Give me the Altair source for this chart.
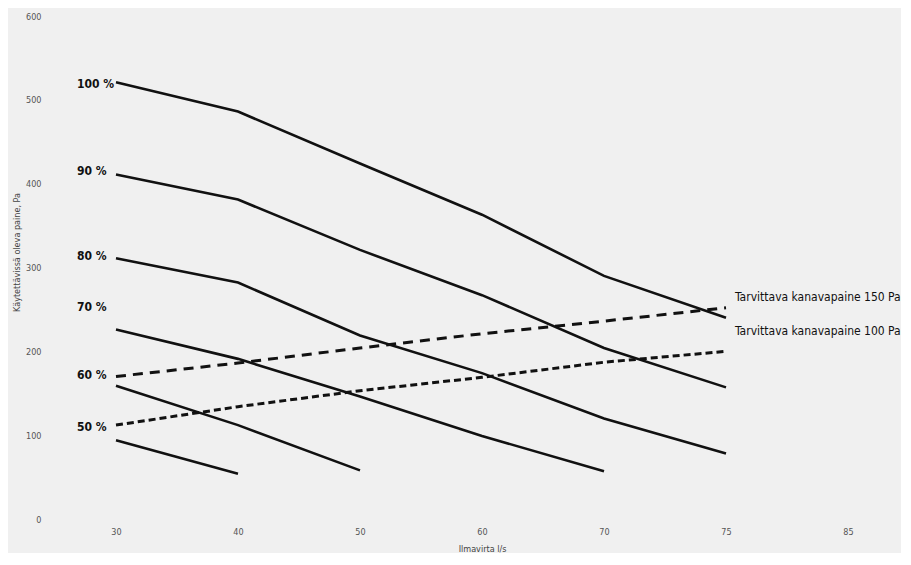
import altair as alt
import pandas as pd

# x-axis categories (as printed on the chart)
x_labels = ["30", "40", "50", "60", "70", "75", "85"]

# available pressure (Pa) for each fan speed, read at the x categories
p100 = [521, 486, 424, 363, 290, 240]
p90 = [411, 381, 321, 267, 204, 157]
p80 = [311, 282, 219, 174, 120, 78]
p70 = [226, 191, 146, 99, 57]
p60 = [159, 112, 58]
p50 = [94, 54]

# required duct pressure curves (dashed)
d150 = [170, 186, 204, 221, 236, 252]
d100 = [112, 134, 153, 169, 187, 200]

speed_names = ["100 %", "90 %", "80 %", "70 %", "60 %", "50 %"]
speed_series = [p100, p90, p80, p70, p60, p50]
label_y = [519, 415, 314, 253, 172, 110]

req_names = ["Tarvittava kanavapaine 150 Pa", "Tarvittava kanavapaine 100 Pa"]
req_label_y = [265, 224]

rows = []
for name, vals in zip(speed_names, speed_series):
    for x, v in zip(x_labels, vals):
        rows.append({"series": name, "flow": x, "pressure": v})
solid_df = pd.DataFrame(rows)

d150_df = pd.DataFrame({"flow": x_labels[:len(d150)], "pressure": d150})
d100_df = pd.DataFrame({"flow": x_labels[:len(d100)], "pressure": d100})

lab_df = pd.DataFrame({"label": speed_names, "flow": ["30"] * len(speed_names), "pressure": label_y})
req_df = pd.DataFrame({"label": req_names, "flow": ["75"] * len(req_names), "pressure": req_label_y})

FONT = "Liberation Sans Narrow, DejaVu Sans Condensed, sans-serif"

xscale = alt.Scale(type="point", domain=x_labels, padding=0.295)
yscale = alt.Scale(domain=[0, 600])

X = alt.X("flow:O", scale=xscale, sort=x_labels,
          axis=alt.Axis(title="Ilmavirta l/s", labelAngle=0, domain=False, ticks=False,
                        grid=False, labelFontSize=9, labelColor="#555", labelPadding=8,
                        titleFontSize=9, titleFontWeight="normal", titleColor="#444",
                        titlePadding=8, labelFont=FONT, titleFont=FONT))
Y = alt.Y("pressure:Q", scale=yscale,
          axis=alt.Axis(title="Käytettävissä oleva paine, Pa", values=[0, 100, 200, 300, 400, 500, 600],
                        domain=False, ticks=False, grid=False, labelFontSize=9,
                        labelColor="#555", labelPadding=39, titleFontSize=9,
                        titleFontWeight="normal", titleColor="#444", titleX=-64, titleY=236,
                        titleBaseline="middle", labelFont=FONT, titleFont=FONT))

solid = alt.Chart(solid_df).mark_line(color="#111", strokeWidth=2.6).encode(
    x=X, y=Y, detail="series:N")
dash150 = alt.Chart(d150_df).mark_line(color="#111", strokeWidth=3, strokeDash=[10, 7]).encode(
    x=alt.X("flow:O", scale=xscale, sort=x_labels), y=alt.Y("pressure:Q", scale=yscale))
dash100 = alt.Chart(d100_df).mark_line(color="#111", strokeWidth=3, strokeDash=[7, 4]).encode(
    x=alt.X("flow:O", scale=xscale, sort=x_labels), y=alt.Y("pressure:Q", scale=yscale))

labels = alt.Chart(lab_df).mark_text(align="left", baseline="middle", dx=-39, fontSize=12,
                                     fontWeight="bold", font=FONT, color="#111").encode(
    x=alt.X("flow:O", scale=xscale, sort=x_labels), y=alt.Y("pressure:Q", scale=yscale), text="label:N")
req_labels = alt.Chart(req_df).mark_text(align="left", baseline="middle", dx=9, fontSize=12,
                                         font=FONT, color="#111").encode(
    x=alt.X("flow:O", scale=xscale, sort=x_labels), y=alt.Y("pressure:Q", scale=yscale), text="label:N")

chart = alt.layer(solid, dash150, dash100, labels, req_labels).properties(
    width=804, height=503, autosize="none",
    padding={"left": 72, "top": 8, "right": 17, "bottom": 34},
    background="#f0f0f0",
).configure_view(stroke=None)

chart.save("out.html", embed_options={"renderer": "svg", "actions": False})
